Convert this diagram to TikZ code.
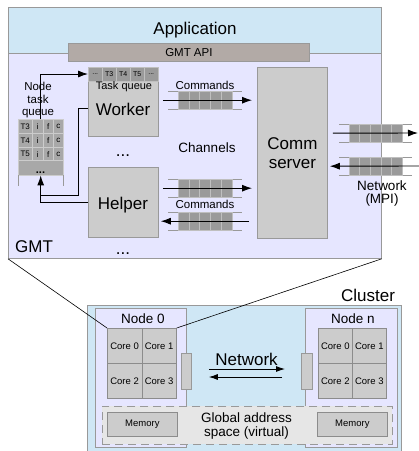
\documentclass[tikz,border=0pt]{standalone}
\usepackage{fontspec}
\setmainfont{Liberation Sans}
\usetikzlibrary{arrows.meta}
\definecolor{appblue}{HTML}{CFE7F5}
\definecolor{lav}{HTML}{E6E6FF}
\definecolor{apigray}{HTML}{B2AAA6}
\definecolor{boxgray}{HTML}{CCCCCC}
\definecolor{bordgray}{HTML}{999999}
\definecolor{cellgray}{HTML}{9A9A9A}
\definecolor{gridgray}{HTML}{A8A8A8}
\definecolor{dashfill}{HTML}{E6E6E6}
\newcommand{\gfs}[1]{\fontsize{#1}{#1}\selectfont}
\newcommand{\gmtchan}[4]{%
  \draw[draw=bordgray, line width=0.7pt] (#1-10,#2) -- (#1+#3+10,#2) (#1-10,#2+18) -- (#1+#3+10,#2+18);
  \node[draw=none, minimum width=#3pt, minimum height=18pt, inner sep=0pt, anchor=north west] (#4) at (#1,#2) {};
  \foreach \ci in {0,...,4} \draw[fill=cellgray, draw=black!25, line width=0.5pt] (#1+\ci*#3/5,#2) rectangle ++(#3/5,18);
}
\begin{document}
\begin{tikzpicture}[x=1pt,y=-1pt,
  rbox/.style={draw=bordgray, fill=boxgray, line width=0.8pt, inner sep=0pt, anchor=north west},
  wq/.style={draw=black!25, fill=cellgray, line width=0.5pt, inner sep=0pt, anchor=north west, minimum width=14pt, minimum height=13.5pt, font=\gfs{7}},
  gc/.style={draw=black!20, fill=gridgray, line width=0.5pt, inner sep=0pt, anchor=north west, minimum height=14pt, font=\gfs{8}},
  core/.style={draw=black!45, fill=boxgray, line width=0.7pt, inner sep=0pt, anchor=north west, minimum width=34.5pt, minimum height=35pt, font=\gfs{9.5}},
  arr/.style={-{Latex[length=10pt,width=7pt]}, line width=0.9pt},
  conn/.style={line width=0.9pt},
  lbl/.style={anchor=base, inner sep=0pt}
]
\useasboundingbox (0,0) rectangle (419,451);

% ---------- GMT / Application ----------
\node[draw=bordgray, fill=lav, line width=0.8pt, inner sep=0pt, anchor=north west, minimum width=373pt, minimum height=251pt] (gmt) at (8,7) {};
\node[draw=bordgray, fill=appblue, line width=0.8pt, inner sep=0pt, anchor=north west, minimum width=373pt, minimum height=46pt] (app) at (8,7) {};
\node[lbl, font=\gfs{17}] at (195,34.5) {Application};
\node[draw=bordgray, fill=apigray, line width=0.8pt, inner sep=0pt, anchor=north west, minimum width=241pt, minimum height=18pt, font=\gfs{11.5}] (api) at (68,43) {GMT API};
\node[lbl, font=\gfs{17}, anchor=base west] at (15,252) {GMT};

% ---------- Worker ----------
\node[rbox, minimum width=70pt, minimum height=69pt] (worker) at (88,67) {};
\node[wq] (wq0) at (88,67) {...};
\node[wq] (wq1) at (102,67) {T3};
\node[wq] (wq2) at (116,67) {T4};
\node[wq] (wq3) at (130,67) {T5};
\node[wq] (wq4) at (144,67) {...};
\node[lbl, font=\gfs{11}] at (124,89.5) {Task queue};
\node[lbl, font=\gfs{17}] at (123,115) {Worker};
\node[lbl, font=\gfs{17}] at (123,156) {...};

% ---------- Helper ----------
\node[rbox, minimum width=70pt, minimum height=70pt] (helper) at (88,167) {};
\node[lbl, font=\gfs{17}] at (123,209) {Helper};
\node[lbl, font=\gfs{17}] at (123,254) {...};

% ---------- Comm server ----------
\node[rbox, minimum width=70pt, minimum height=171pt, align=center, font=\fontsize{17}{19}\selectfont] (comm) at (257,67) {Comm\\server};

% ---------- Node task queue ----------
\node[lbl, font=\gfs{11.5}] at (38,90) {Node};
\node[lbl, font=\gfs{11.5}] at (38,103) {task};
\node[lbl, font=\gfs{11.5}] at (38,115) {queue};
\node[inner sep=0pt, anchor=north west, minimum width=45pt, minimum height=56pt] (nq) at (18,119) {};
\foreach \r/\t/\y in {0/T3/119, 1/T4/133, 2/T5/147} {
  \node[gc, minimum width=14pt] at (18,\y) {\t};
  \node[gc, minimum width=11pt] at (32,\y) {i};
  \node[gc, minimum width=10pt] at (43,\y) {f};
  \node[gc, minimum width=10pt] at (53,\y) {c};
}
\node[gc, minimum width=45pt, minimum height=15pt] (nqdots) at (18,160) {};
\node[lbl, font=\bfseries\gfs{11}] at (40.5,173) {...};
\draw[bordgray, line width=0.7pt] (nq.south west) -- ++(0,11) (nq.south east) -- ++(0,11);

% connectors for node task queue
\draw[arr] (nq.north) |- (wq0.west);
\draw[conn] (worker.west |- 0,108) -- (78,108) -- (78,195) -- (nq.south |- 0,195);
\draw[arr] (helper.west) -| (nq.south);

% ---------- Channels ----------
\node[lbl, font=\gfs{11.5}] at (205,89) {Commands};
\gmtchan{178}{91}{54}{q1}
\draw[arr, shorten <=4pt, shorten >=5pt] (worker.east |- q1) -- (comm.west |- q1);
\node[lbl, font=\gfs{13.5}] at (207,152) {Channels};
\gmtchan{178}{179}{54}{q2}
\draw[arr, shorten <=4pt, shorten >=5pt] (helper.east |- q2) -- (comm.west |- q2);
\node[lbl, font=\gfs{11.5}] at (205,208) {Commands};
\gmtchan{178}{212}{54}{q3}
\draw[arr, shorten <=8pt, shorten >=2pt] (comm.west |- q3) -- (helper.east |- q3);

% ---------- Network (MPI) ----------
\gmtchan{349}{124}{53}{n1}
\coordinate (netout) at (418,133);
\draw[arr, shorten <=5pt] (comm.east |- n1) -- (netout);
\gmtchan{349}{157}{53}{n2}
\coordinate (netin) at (419,166);
\draw[arr, shorten >=2pt] (netin) -- (comm.east |- n2);
\node[lbl, font=\gfs{13.5}] at (382,190) {Network};
\node[lbl, font=\gfs{13.5}] at (382,203.5) {(MPI)};

% ---------- Cluster ----------
\node[draw=bordgray, fill=appblue, line width=0.8pt, inner sep=0pt, anchor=north west, minimum width=314pt, minimum height=150pt] (cluster) at (87,305) {};
\node[lbl, font=\gfs{17}] at (368,301) {Cluster};

\node[draw=bordgray, fill=lav, line width=0.8pt, inner sep=0pt, anchor=north west, minimum width=91pt, minimum height=139pt] (node0) at (95,308) {};
\node[draw=bordgray, fill=lav, line width=0.8pt, inner sep=0pt, anchor=north west, minimum width=92pt, minimum height=139pt] (noden) at (305,308) {};
\node[lbl, font=\gfs{13.5}] at (143,323) {Node 0};
\node[lbl, font=\gfs{13.5}] at (353,323) {Node n};

\node[core] (a0) at (107,328) {Core 0};
\node[core] (a1) at (141.5,328) {Core 1};
\node[core] (a2) at (107,363) {Core 2};
\node[core] (a3) at (141.5,363) {Core 3};
\node[core, minimum width=34pt] (b0) at (318,328) {Core 0};
\node[core, minimum width=34pt] (b1) at (352,328) {Core 1};
\node[core, minimum width=34pt] (b2) at (318,363) {Core 2};
\node[core, minimum width=34pt] (b3) at (352,363) {Core 3};

\node[rbox, minimum width=10pt, minimum height=36pt] (nic0) at (181,353) {};
\node[rbox, minimum width=11pt, minimum height=36pt] (nicn) at (301,353) {};

\node[lbl, font=\gfs{17}] at (246.5,365) {Network};
\draw[-{Latex[length=9pt,width=6pt]}, line width=0.9pt, shorten <=17pt, shorten >=16pt] (nic0.east |- 0,369) -- (nicn.west |- 0,369);
\draw[-{Latex[length=9pt,width=6pt]}, line width=0.9pt, shorten <=19pt, shorten >=17pt] (nicn.west |- 0,377) -- (nic0.east |- 0,377);

\node[draw=bordgray, fill=dashfill, line width=0.9pt, dash pattern=on 8pt off 5pt, inner sep=0pt, anchor=north west, minimum width=290pt, minimum height=38pt] (gas) at (102,406) {};
\node[draw=black!45, fill=boxgray, line width=0.7pt, inner sep=0pt, anchor=north west, minimum width=70pt, minimum height=24pt, font=\gfs{9.5}] (mem0) at (107,412) {Memory};
\node[draw=black!45, fill=boxgray, line width=0.7pt, inner sep=0pt, anchor=north west, minimum width=70pt, minimum height=24pt, font=\gfs{9.5}] (memn) at (317,412) {Memory};
\node[lbl, font=\gfs{13.5}] at (246.5,422) {Global address};
\node[lbl, font=\gfs{13.5}] at (246.5,436) {space (virtual)};

% ---------- zoom lines ----------
\draw[line width=0.6pt] (gmt.south west) -- (a0.north west);
\draw[line width=0.6pt] (gmt.south east) -- (a1.north east);
\end{tikzpicture}
\end{document}
